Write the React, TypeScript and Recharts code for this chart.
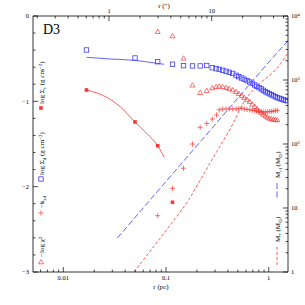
import React from 'react';
import { ComposedChart, Scatter, Line, XAxis, YAxis } from 'recharts';

const BLUE = '#3c3cff';
const RED = '#ff3333';
const FONT = '"Liberation Serif", serif';

// open blue squares: log Sigma_d
const dustR = [0.0168, 0.0499, 0.083, 0.1156, 0.148, 0.181, 0.215, 0.249, 0.282, 0.307, 0.33, 0.356, 0.384, 0.413, 0.446, 0.481, 0.511, 0.546, 0.578, 0.615, 0.653, 0.692, 0.731, 0.764, 0.805, 0.847, 0.885, 0.926, 0.968, 1.014, 1.06, 1.108, 1.159, 1.213, 1.268, 1.327, 1.387, 1.45, 1.517];
const dustSigma = [-0.398, -0.492, -0.536, -0.565, -0.582, -0.585, -0.585, -0.58, -0.606, -0.618, -0.625, -0.636, -0.648, -0.66, -0.673, -0.695, -0.711, -0.727, -0.742, -0.758, -0.773, -0.789, -0.809, -0.824, -0.84, -0.855, -0.871, -0.887, -0.899, -0.911, -0.922, -0.934, -0.946, -0.957, -0.964, -0.973, -0.981, -0.988, -0.993];

// blue solid model line
const dustModelR = [0.0168, 0.0285, 0.05, 0.075, 0.096];
const dustModel = [-0.484, -0.504, -0.52, -0.548, -0.566];

// filled red squares: log Sigma_c
const coreR = [0.0168, 0.0499, 0.083, 0.1156];
const coreSigma = [-0.867, -1.242, -1.52, -2.183];

// red solid model line
const coreModelR = [0.0168, 0.0265, 0.0356, 0.0499, 0.0648, 0.083, 0.096];
const coreModel = [-0.867, -0.953, -1.06, -1.242, -1.375, -1.52, -1.656];

// open red triangles: -log chi^2
const chiR = [0.083, 0.1156, 0.148, 0.181, 0.215, 0.249, 0.282, 0.307, 0.33, 0.356, 0.384, 0.413, 0.446, 0.481, 0.511, 0.546, 0.578, 0.615, 0.653, 0.692, 0.731, 0.764, 0.805, 0.847, 0.885, 0.926, 0.968, 1.014, 1.06, 1.108, 1.159, 1.213];
const chi = [-0.184, -0.234, -0.496, -0.811, -0.899, -0.875, -0.844, -0.829, -0.825, -0.83, -0.84, -0.85, -0.868, -0.888, -0.91, -0.935, -0.958, -0.98, -1.005, -1.035, -1.063, -1.09, -1.11, -1.133, -1.152, -1.172, -1.187, -1.199, -1.207, -1.211, -1.215, -1.219];

// red plus: -k
const kR = [0.083, 0.1156, 0.148, 0.181, 0.215, 0.249, 0.282, 0.31, 0.33, 0.356, 0.384, 0.413, 0.446, 0.481, 0.511, 0.546, 0.578, 0.615, 0.653, 0.692, 0.731, 0.764, 0.805, 0.847, 0.885, 0.926, 0.968, 1.014, 1.06, 1.108, 1.159, 1.213];
const kVal = [-2.34, -2.019, -1.784, -1.5, -1.304, -1.26, -1.207, -1.16, -1.1, -1.09, -1.09, -1.09, -1.09, -1.09, -1.085, -1.08, -1.09, -1.095, -1.1, -1.105, -1.11, -1.115, -1.12, -1.12, -1.125, -1.125, -1.125, -1.12, -1.12, -1.115, -1.11, -1.105];

// mass curves (right axis)
const clR = [0.0336, 0.1, 0.3, 1.0, 1.54];
const clM = [3.4, 26, 200, 1900, 4100];
const starR = [0.0491, 0.0726, 0.0874, 0.1197, 0.1637, 0.2143, 0.312, 0.42, 0.611, 0.708, 0.855, 1.03, 1.197, 1.387, 1.54];
const starM = [1.0, 2.29, 3.36, 6.5, 12.9, 27, 76, 171, 533, 698, 940, 1197, 1523, 2054, 2700];

// ticks
const pcMajor = [0.01, 0.1, 1];
const pcLabels = ['0.01', '0.1', '1'];
const pcTicks = [0.006, 0.007, 0.008, 0.009, 0.01, 0.02, 0.03, 0.04, 0.05, 0.06, 0.07, 0.08, 0.09, 0.1, 0.2, 0.3, 0.4, 0.5, 0.6, 0.7, 0.8, 0.9, 1];
const asMajor = [1, 10];
const asLabels = ['1', '10'];
const asTicks = [0.2, 0.3, 0.4, 0.5, 0.6, 0.7, 0.8, 0.9, 1, 2, 3, 4, 5, 6, 7, 8, 9, 10, 20, 30, 40, 50];
const leftMajor = [-3, -2, -1, 0];
const leftLabels = ['\u22123', '\u22122', '\u22121', '0'];
const leftTicks = [-3, -2.8, -2.6, -2.4, -2.2, -2, -1.8, -1.6, -1.4, -1.2, -1, -0.8, -0.6, -0.4, -0.2, 0];
const rightMajor = [1, 10, 100, 1000, 10000];
const rightExp = ['', '', '2', '3', '4'];
const rightTicks = [1, 2, 3, 4, 5, 6, 7, 8, 9, 10, 20, 30, 40, 50, 60, 70, 80, 90, 100, 200, 300, 400, 500, 600, 700, 800, 900, 1000, 2000, 3000, 4000, 5000, 6000, 7000, 8000, 9000, 10000];

const zipV = (rs: number[], vs: number[]) => rs.map((r, i) => ({ r, v: vs[i] }));
const zipM = (rs: number[], ms: number[]) => rs.map((r, i) => ({ r, m: ms[i] }));

const idx = (arr: number[], v: number) => arr.findIndex((m) => Math.abs(m - v) < 1e-9);

const txt = { fontFamily: FONT, fontSize: 6.5, fill: '#000' };

const BottomTick = (props: any) => {
  const { x, y, payload } = props;
  const i = idx(pcMajor, payload.value);
  const len = i >= 0 ? 5 : 2.5;
  return (
    <g>
      <line x1={x} x2={x} y1={y} y2={y - len} stroke="#000" strokeWidth={0.7} />
      {i >= 0 && <text x={x} y={y + 8} textAnchor="middle" {...txt}>{pcLabels[i]}</text>}
    </g>
  );
};

const TopTick = (props: any) => {
  const { x, y, payload } = props;
  const i = idx(asMajor, payload.value);
  const len = i >= 0 ? 5 : 2.5;
  return (
    <g>
      <line x1={x} x2={x} y1={y} y2={y + len} stroke="#000" strokeWidth={0.7} />
      {i >= 0 && <text x={x} y={y - 3} textAnchor="middle" {...txt}>{asLabels[i]}</text>}
    </g>
  );
};

const LeftTick = (props: any) => {
  const { x, y, payload } = props;
  const i = idx(leftMajor, payload.value);
  const len = i >= 0 ? 5 : 2.5;
  return (
    <g>
      <line x1={x} x2={x + len} y1={y} y2={y} stroke="#000" strokeWidth={0.7} />
      {i >= 0 && <text x={x - 4} y={y + 2.2} textAnchor="end" {...txt}>{leftLabels[i]}</text>}
    </g>
  );
};

const RightTick = (props: any) => {
  const { x, y, payload } = props;
  const i = idx(rightMajor, payload.value);
  const len = i >= 0 ? 5 : 2.5;
  return (
    <g>
      <line x1={x} x2={x - len} y1={y} y2={y} stroke="#000" strokeWidth={0.7} />
      {i >= 0 && (
        <text x={x + 3} y={y + 2.2} {...txt}>
          {payload.value === 1 ? '1' : '10'}
          {rightExp[i] && <tspan dy={-2.5} fontSize={4.5}>{rightExp[i]}</tspan>}
        </text>
      )}
    </g>
  );
};

const OpenSquare = (props: any) => (
  <rect x={props.cx - 2.2} y={props.cy - 2.2} width={4.4} height={4.4} fill="none" stroke={BLUE} strokeWidth={0.8} />
);
const FilledSquare = (props: any) => (
  <rect x={props.cx - 1.8} y={props.cy - 1.8} width={3.6} height={3.6} fill={RED} />
);
const Triangle = (props: any) => {
  const { cx, cy } = props;
  return <path d={`M${cx},${cy - 2.5}L${cx + 2.5},${cy + 1.8}L${cx - 2.5},${cy + 1.8}Z`} fill="none" stroke={RED} strokeWidth={0.7} />;
};
const Plus = (props: any) => {
  const { cx, cy } = props;
  return <path d={`M${cx - 2.6},${cy}H${cx + 2.6}M${cx},${cy - 2.6}V${cy + 2.6}`} stroke={RED} strokeWidth={0.7} />;
};

const legTxt = { fontFamily: FONT, fontSize: 7, fill: '#000' };

const Rot = ({ x, y, children }: { x: number; y: number; children: React.ReactNode }) => (
  <text transform={`translate(${x},${y}) rotate(-90)`} {...legTxt}>{children}</text>
);

export default function App() {
  return (
    <div style={{ position: 'absolute', left: 0, top: 0, width: 305, height: 305, background: '#fff' }}>
      <ComposedChart width={305} height={305} margin={{ top: 0, right: 0, bottom: 0, left: 0 }}>
        <XAxis xAxisId="pc" dataKey="r" type="number" scale="log" domain={[0.00507, 1.54]} allowDataOverflow
          ticks={pcTicks} interval={0} tick={BottomTick} tickLine={false} tickSize={0} tickMargin={0}
          axisLine={{ stroke: '#000', strokeWidth: 0.8 }} height={33} />
        <XAxis xAxisId="as" orientation="top" dataKey="r" type="number" scale="log" domain={[0.182, 55.3]} allowDataOverflow
          ticks={asTicks} interval={0} tick={TopTick} tickLine={false} tickSize={0} tickMargin={0}
          axisLine={{ stroke: '#000', strokeWidth: 0.8 }} height={16} />
        <YAxis yAxisId="L" dataKey="v" type="number" domain={[-3, 0]} allowDataOverflow
          ticks={leftTicks} interval={0} tick={LeftTick} tickLine={false} tickSize={0} tickMargin={0}
          axisLine={{ stroke: '#000', strokeWidth: 0.8 }} width={33} />
        <YAxis yAxisId="R" orientation="right" dataKey="m" type="number" scale="log" domain={[1, 10000]} allowDataOverflow
          ticks={rightTicks} interval={0} tick={RightTick} tickLine={false} tickSize={0} tickMargin={0}
          axisLine={{ stroke: '#000', strokeWidth: 0.8 }} width={17} />

        <Line xAxisId="pc" yAxisId="R" data={zipM(clR, clM)} dataKey="m" type="linear" stroke={BLUE} strokeWidth={0.8}
          strokeDasharray="6 2.5" dot={false} isAnimationActive={false} />
        <Line xAxisId="pc" yAxisId="R" data={zipM(starR, starM)} dataKey="m" type="monotone" stroke={RED} strokeWidth={0.8}
          strokeDasharray="3 2" dot={false} isAnimationActive={false} />
        <Line xAxisId="pc" yAxisId="L" data={zipV(dustModelR, dustModel)} dataKey="v" type="monotone" stroke={BLUE} strokeWidth={0.8}
          dot={false} isAnimationActive={false} />
        <Line xAxisId="pc" yAxisId="L" data={zipV(coreModelR, coreModel)} dataKey="v" type="monotone" stroke={RED} strokeWidth={0.8}
          dot={false} isAnimationActive={false} />

        <Scatter xAxisId="pc" yAxisId="L" data={zipV(dustR, dustSigma)} shape={OpenSquare} isAnimationActive={false} />
        <Scatter xAxisId="pc" yAxisId="L" data={zipV(coreR, coreSigma)} shape={FilledSquare} isAnimationActive={false} />
        <Scatter xAxisId="pc" yAxisId="L" data={zipV(chiR, chi)} shape={Triangle} isAnimationActive={false} />
        <Scatter xAxisId="pc" yAxisId="L" data={zipV(kR, kVal)} shape={Plus} isAnimationActive={false} />
      </ComposedChart>

      <svg width={305} height={305} style={{ position: 'absolute', left: 0, top: 0, pointerEvents: 'none' }}>
        <text x={43} y={34} fontFamily={FONT} fontSize={14}>D3</text>
        <text x={161} y={289} textAnchor="middle" {...legTxt}>r (pc)</text>
        <text x={164} y={8} textAnchor="middle" {...legTxt}>r ({'\u2033'})</text>

        <Rot x={44} y={104}>
          log Σ<tspan dy={1.5} fontSize={5}>c</tspan><tspan dy={-1.5}> (g cm</tspan>
          <tspan dy={-2.5} fontSize={5}>{'\u2212'}2</tspan><tspan dy={2.5}>)</tspan>
        </Rot>
        <rect x={39.2} y={106.2} width={3.6} height={3.6} fill={RED} />

        <Rot x={44} y={175}>
          log Σ<tspan dy={1.5} fontSize={5}>d</tspan><tspan dy={-1.5}> (g cm</tspan>
          <tspan dy={-2.5} fontSize={5}>{'\u2212'}2</tspan><tspan dy={2.5}>)</tspan>
        </Rot>
        <rect x={38.8} y={176.8} width={4.4} height={4.4} fill="none" stroke={BLUE} strokeWidth={0.8} />

        <Rot x={44} y={208}>
          {'\u2212'}k<tspan dy={1.5} fontSize={5}>sd</tspan>
        </Rot>
        <path d="M38.4,213H43.6M41,210.4V215.6" stroke={RED} strokeWidth={0.7} />

        <Rot x={44} y={257}>
          {'\u2212'}log χ<tspan dy={-2.5} fontSize={5}>2</tspan>
        </Rot>
        <path d="M41,259.5L43.5,263.8L38.5,263.8Z" fill="none" stroke={RED} strokeWidth={0.7} />

        <Rot x={280} y={178}>
          M<tspan dy={1.5} fontSize={5}>cl</tspan><tspan dy={-1.5}> (M</tspan>
          <tspan dy={1.5} fontSize={5}>⊙</tspan><tspan dy={-1.5}>)</tspan>
        </Rot>
        <line x1={277} x2={277} y1={183} y2={200} stroke={BLUE} strokeWidth={0.8} strokeDasharray="6 2.5" />

        <Rot x={280} y={242}>
          M<tspan dy={1.5} fontSize={5}>*</tspan><tspan dy={-1.5}> (M</tspan>
          <tspan dy={1.5} fontSize={5}>⊙</tspan><tspan dy={-1.5}>)</tspan>
        </Rot>
        <line x1={277} x2={277} y1={247} y2={265} stroke={RED} strokeWidth={0.8} strokeDasharray="3 2" />
      </svg>
    </div>
  );
}
